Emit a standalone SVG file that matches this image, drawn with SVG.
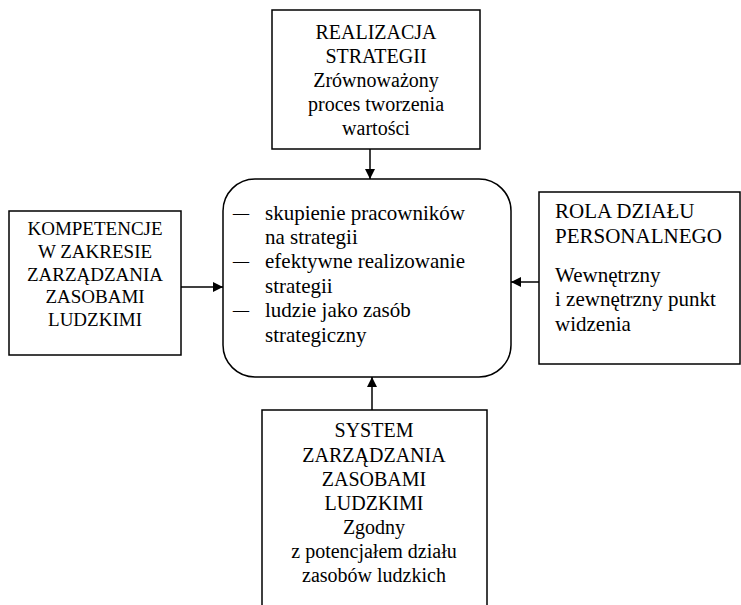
<svg xmlns="http://www.w3.org/2000/svg" width="741" height="605" viewBox="0 0 741 605">
<defs>
<marker id="ah" viewBox="0 0 10 10" refX="10" refY="5" markerWidth="10" markerHeight="10" markerUnits="userSpaceOnUse" orient="auto">
<path d="M0,0 L10,5 L0,10 z" fill="#000"/>
</marker>
</defs>
<style>
.box{fill:#fff;stroke:#000;stroke-width:1.5}
text{font-family:'Liberation Serif','Times New Roman',serif;font-size:20px;fill:#000}
.c{text-anchor:middle}
.s{font-size:19px}
.l{font-size:21px}
.ln{stroke:#000;stroke-width:1.5;fill:none}
</style>
<rect width="741" height="605" fill="#fff"/>
<g id="top">
<rect class="box" x="272" y="10" width="208" height="139"/>
<text class="c" x="376" y="39">REALIZACJA</text>
<text class="c" x="376" y="63">STRATEGII</text>
<text class="c" x="376" y="87">Zrównoważony</text>
<text class="c" x="376" y="111">proces tworzenia</text>
<text class="c" x="376" y="135">wartości</text>
</g>
<g id="center">
<rect class="box" x="223" y="179" width="288" height="198" rx="32" ry="32"/>
<text class="l" x="233" y="220" textLength="16" lengthAdjust="spacingAndGlyphs">–</text>
<text class="l" x="265" y="220">skupienie pracowników</text>
<text class="l" x="265" y="244">na strategii</text>
<text class="l" x="233" y="268" textLength="16" lengthAdjust="spacingAndGlyphs">–</text>
<text class="l" x="265" y="268">efektywne realizowanie</text>
<text class="l" x="265" y="293">strategii</text>
<text class="l" x="233" y="317" textLength="16" lengthAdjust="spacingAndGlyphs">–</text>
<text class="l" x="265" y="317">ludzie jako zasób</text>
<text class="l" x="265" y="342">strategiczny</text>
</g>
<g id="left">
<rect class="box" x="9" y="211" width="172" height="144"/>
<text class="s c" x="95" y="235">KOMPETENCJE</text>
<text class="s c" x="95" y="258">W ZAKRESIE</text>
<text class="s c" x="95" y="281">ZARZĄDZANIA</text>
<text class="s c" x="95" y="303">ZASOBAMI</text>
<text class="s c" x="95" y="326">LUDZKIMI</text>
</g>
<g id="right">
<rect class="box" x="539" y="192" width="201" height="172"/>
<text class="l" x="555" y="218">ROLA DZIAŁU</text>
<text class="l" x="555" y="243">PERSONALNEGO</text>
<text class="l" x="555" y="282">Wewnętrzny</text>
<text class="l" x="555" y="306">i zewnętrzny punkt</text>
<text class="l" x="555" y="331">widzenia</text>
</g>
<g id="bottom">
<path class="ln" d="M262,605 V410 H487 V605"/>
<text class="c" x="374" y="437">SYSTEM</text>
<text class="c" x="374" y="462">ZARZĄDZANIA</text>
<text class="c" x="374" y="486">ZASOBAMI</text>
<text class="c" x="374" y="510">LUDZKIMI</text>
<text class="c" x="374" y="534">Zgodny</text>
<text class="c" x="374" y="558">z potencjałem działu</text>
<text class="c" x="374" y="582">zasobów ludzkich</text>
</g>
<g id="connectors">
<line class="ln" x1="370" y1="149" x2="370" y2="179" marker-end="url(#ah)"/>
<line class="ln" x1="181" y1="287" x2="223" y2="287" marker-end="url(#ah)"/>
<line class="ln" x1="539" y1="282" x2="511" y2="282" marker-end="url(#ah)"/>
<line class="ln" x1="372" y1="410" x2="372" y2="377" marker-end="url(#ah)"/>
</g>
</svg>
